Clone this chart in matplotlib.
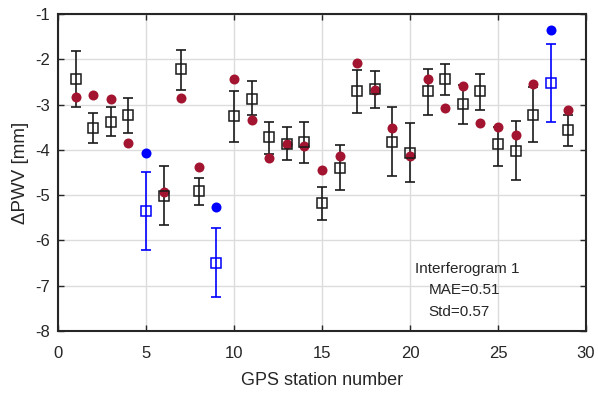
import matplotlib
matplotlib.use("Agg")
import matplotlib.pyplot as plt
import numpy as np

plt.rcParams["font.family"] = ["Liberation Sans", "DejaVu Sans"]
plt.rcParams["axes.unicode_minus"] = False

# station numbers
stations = [1, 2, 3, 4, 5, 6, 7, 8, 9, 10, 11, 12, 13, 14, 15,
            16, 17, 18, 19, 20, 21, 22, 23, 24, 25, 26, 27, 28, 29]
# InSAR-derived dPWV (open squares) with lower/upper error bar ends
insar = [-2.43, -3.52, -3.38, -3.23, -5.35, -5.01, -2.22, -4.91, -6.49, -3.25,
         -2.88, -3.72, -3.87, -3.82, -5.18, -4.41, -2.71, -2.66, -3.82, -4.06,
         -2.71, -2.43, -2.99, -2.71, -3.88, -4.02, -3.23, -2.52, -3.56]
err_top = [-1.81, -3.19, -3.05, -2.86, -4.49, -4.36, -1.79, -4.63, -5.72, -2.71,
           -2.49, -3.38, -3.49, -3.38, -4.81, -3.89, -2.24, -2.26, -3.06, -3.41,
           -2.21, -2.10, -2.57, -2.32, -3.50, -3.36, -2.62, -1.67, -3.23]
err_bot = [-3.05, -3.85, -3.69, -3.62, -6.20, -5.65, -2.68, -5.22, -7.24, -3.82,
           -3.23, -4.09, -4.22, -4.30, -5.55, -4.88, -3.18, -3.08, -4.57, -4.72,
           -3.23, -2.80, -3.43, -3.12, -4.36, -4.66, -3.83, -3.38, -3.91]
# GPS dPWV (filled dots)
gps = [-2.83, -2.80, -2.88, -3.85, -4.08, -4.94, -2.85, -4.38, -5.27, -2.43,
       -3.34, -4.19, -3.87, -3.91, -4.44, -4.13, -2.09, -2.68, -3.52, -4.13,
       -2.43, -3.08, -2.60, -3.40, -3.50, -3.67, -2.55, -1.35, -3.12]
# outlier stations drawn in blue
outliers = [5, 9, 28]

RED = "#A2142F"
BLUE = "#0000FF"
INK = "#262626"

fig = plt.figure(figsize=(5.98, 3.97), dpi=100)
ax = fig.add_axes([0.097, 0.166, 0.883, 0.799])

st = np.array(stations)
ins = np.array(insar)
lo = ins - np.array(err_bot)
hi = np.array(err_top) - ins
gp = np.array(gps)
is_out = np.isin(st, outliers)

for mask, col in [(~is_out, "#1a1a1a"), (is_out, BLUE)]:
    ax.errorbar(st[mask], ins[mask], yerr=[lo[mask], hi[mask]], fmt="none",
                ecolor=col, elinewidth=1.2, capsize=3.3, capthick=1.2, zorder=3)

ax.plot(st[~is_out], gp[~is_out], "o", color=RED, markersize=7.2,
        markeredgewidth=0, zorder=4)
ax.plot(st[is_out], gp[is_out], "o", color=BLUE, markersize=7.2,
        markeredgewidth=0, zorder=4)

ax.plot(st[~is_out], ins[~is_out], "s", markerfacecolor="none",
        markeredgecolor="#1a1a1a", markersize=7, markeredgewidth=1.1, zorder=5)
ax.plot(st[is_out], ins[is_out], "s", markerfacecolor="none",
        markeredgecolor=BLUE, markersize=7, markeredgewidth=1.1, zorder=5)

ax.text(20.3, -6.62, "Interferogram 1", fontsize=11, color=INK, va="center")
ax.text(21.05, -7.1, "MAE=0.51", fontsize=11, color=INK, va="center")
ax.text(21.05, -7.58, "Std=0.57", fontsize=11, color=INK, va="center")

ax.set_xlim(0, 30)
ax.set_ylim(-8, -1)
ax.set_xticks([0, 5, 10, 15, 20, 25, 30])
ax.set_yticks([-8, -7, -6, -5, -4, -3, -2, -1])
ax.grid(True, color="#dcdcdc", linewidth=1.0)
ax.set_axisbelow(True)
ax.tick_params(direction="in", top=True, right=True, length=4, width=1,
               labelsize=12, colors=INK)
ax.tick_params(axis="x", pad=11)
ax.tick_params(axis="y", pad=6)
for sp in ax.spines.values():
    sp.set_linewidth(1.5)
    sp.set_color(INK)

ax.set_xlabel("GPS station number", fontsize=13, color=INK, labelpad=8)
ax.set_ylabel("ΔPWV [mm]", fontsize=13.5, color=INK, labelpad=4)

fig.savefig("out.png", dpi=100)
